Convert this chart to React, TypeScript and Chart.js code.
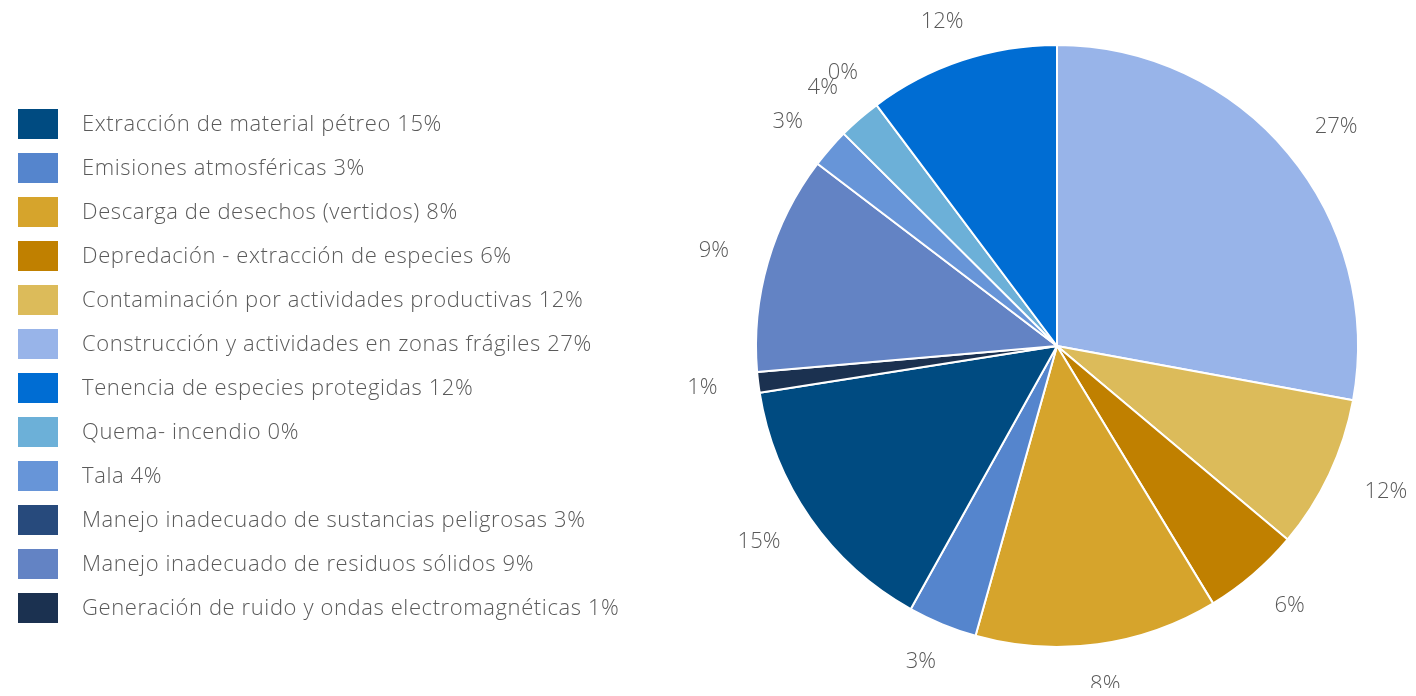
import React, { useEffect, useRef } from "react";
import { Chart, registerables } from "chart.js";

Chart.register(...registerables);

// Slices in drawing order (clockwise from 12 o'clock)
const categories = [
  "Construcción y actividades en zonas frágiles",
  "Contaminación por actividades productivas",
  "Depredación - extracción de especies",
  "Descarga de desechos (vertidos)",
  "Emisiones atmosféricas",
  "Extracción de material pétreo",
  "Generación de ruido y ondas electromagnéticas",
  "Manejo inadecuado de residuos sólidos",
  "Tala",
  "Quema- incendio",
  "Manejo inadecuado de sustancias peligrosas",
  "Tenencia de especies protegidas",
];

// Slice sizes (share of the circle, %)
const values = [27.8, 8.2, 5.2, 13.0, 3.7, 14.4, 1.1, 11.7, 2.1, 2.3, 0, 10.2];

// Text printed next to each slice
const sliceLabels = ["27%", "12%", "6%", "8%", "3%", "15%", "1%", "9%", "3%", "4%", "0%", "12%"];

// Percentages printed in the legend
const legendPercents = [27, 12, 6, 8, 3, 15, 1, 9, 4, 0, 3, 12];

const colors = [
  "#98b4e9",
  "#dcbb5a",
  "#c08000",
  "#d6a42c",
  "#5585cd",
  "#004b81",
  "#1b3150",
  "#6383c4",
  "#6795d8",
  "#6cb0d8",
  "#274a7c",
  "#006dd3",
];

// Order of the legend rows
const legendOrder = [
  "Extracción de material pétreo",
  "Emisiones atmosféricas",
  "Descarga de desechos (vertidos)",
  "Depredación - extracción de especies",
  "Contaminación por actividades productivas",
  "Construcción y actividades en zonas frágiles",
  "Tenencia de especies protegidas",
  "Quema- incendio",
  "Tala",
  "Manejo inadecuado de sustancias peligrosas",
  "Manejo inadecuado de residuos sólidos",
  "Generación de ruido y ondas electromagnéticas",
];

const FONT = "'Open Sans', Lato, 'DejaVu Sans', sans-serif";
const TEXT_COLOR = "#5a5a5a";
const LABEL_GAP = 41;

const outsideLabels = {
  id: "outsideLabels",
  afterDatasetsDraw(chart: any) {
    const ctx = chart.ctx;
    const meta = chart.getDatasetMeta(0);
    ctx.save();
    ctx.font = `300 22px ${FONT}`;
    ctx.fillStyle = TEXT_COLOR;
    ctx.textAlign = "center";
    ctx.textBaseline = "middle";
    meta.data.forEach((arc: any, i: number) => {
      const p = arc.getProps(["x", "y", "startAngle", "endAngle", "outerRadius"], true);
      const mid = (p.startAngle + p.endAngle) / 2;
      const ux = Math.cos(mid);
      const uy = Math.sin(mid);
      const text = sliceLabels[i];
      const w = ctx.measureText(text).width;
      const d = p.outerRadius + LABEL_GAP;
      const cx = p.x + ux * d + (ux * w) / 2;
      const cy = p.y + uy * d;
      ctx.fillText(text, cx, cy);
    });
    ctx.restore();
  },
};

export default function App() {
  const canvasRef = useRef<HTMLCanvasElement | null>(null);

  useEffect(() => {
    if (!canvasRef.current) return;
    const chart = new Chart(canvasRef.current, {
      type: "pie",
      data: {
        labels: categories,
        datasets: [
          {
            data: values,
            backgroundColor: colors,
            borderColor: "#ffffff",
            borderWidth: 2,
          },
        ],
      },
      options: {
        responsive: false,
        animation: false,
        radius: 301,
        layout: { padding: { left: 738, right: 40, top: 38, bottom: 42 } },
        plugins: {
          legend: { display: false },
          tooltip: { enabled: false },
        },
      } as any,
      plugins: [outsideLabels],
    });
    return () => chart.destroy();
  }, []);

  return (
    <div style={{ position: "relative", width: 1400, height: 680 }}>
      <canvas
        ref={canvasRef}
        width={1400}
        height={696}
        style={{ position: "absolute", left: 0, top: -8, width: 1400, height: 696 }}
      />
      {legendOrder.map((name, k) => {
        const i = categories.indexOf(name);
        return (
          <div
            key={name}
            style={{
              position: "absolute",
              left: 10,
              top: 101 + k * 44,
              height: 30,
              display: "flex",
              alignItems: "center",
              whiteSpace: "nowrap",
            }}
          >
            <span
              style={{
                display: "inline-block",
                width: 40,
                height: 30,
                background: colors[i],
              }}
            />
            <span
              style={{
                marginLeft: 24,
                fontFamily: FONT,
                fontWeight: 300,
                fontSize: 22,
                letterSpacing: "0.6px",
                color: TEXT_COLOR,
                lineHeight: "26px",
                position: "relative",
                top: -2,
              }}
            >
              {name} {legendPercents[i]}%
            </span>
          </div>
        );
      })}
    </div>
  );
}
